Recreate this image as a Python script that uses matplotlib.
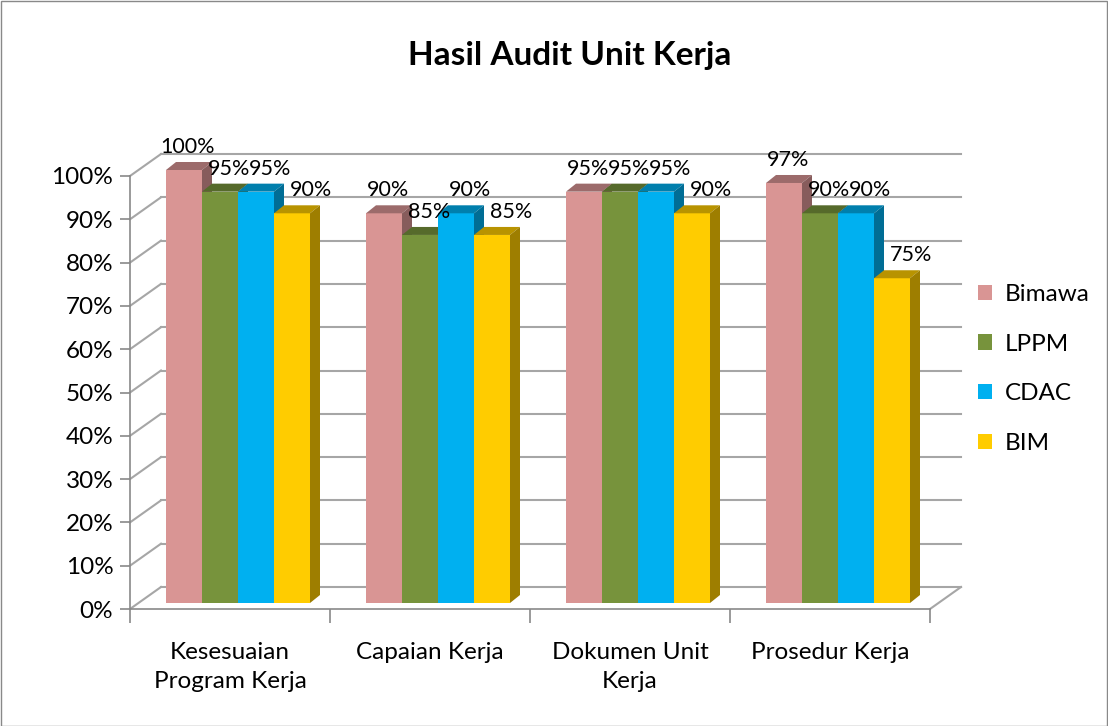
import matplotlib.pyplot as plt
import numpy as np
from matplotlib.patches import Polygon, Rectangle
from matplotlib.ticker import PercentFormatter, FixedLocator

categories = ['Kesesuaian\nProgram Kerja', 'Capaian Kerja', 'Dokumen Unit\nKerja', 'Prosedur Kerja']
units = ['Bimawa', 'LPPM', 'CDAC', 'BIM']
bimawa = [100, 90, 95, 97]
lppm = [95, 85, 95, 90]
cdac = [95, 90, 95, 90]
bim = [90, 85, 90, 75]
values = [bimawa, lppm, cdac, bim]
colors = ['#D99594', '#77933C', '#00B0F0', '#FFCC00']

plt.rcParams['font.family'] = ['Lato', 'DejaVu Sans']

W, H = 1108, 726
fig = plt.figure(figsize=(W / 100, H / 100), dpi=100)
# front plane of the 3d box: 800 x 433 px
ax = fig.add_axes([130 / W, 117 / H, 800 / W, 433 / H])
ax.set_xlim(0, 4)
ax.set_ylim(0, 100)
ux = 4 / 800     # data units per pixel
uy = 100 / 433

grid = '#A6A6A6'
wall_dx, wall_dy = 31 * ux, 22 * uy   # back wall offset
bar_dx, bar_dy = 8 * ux, 6 * uy       # bars sit a bit behind the front
side_dx, side_dy = 10 * ux, 8 * uy    # depth of a bar
bw = 36 * ux

def shade(c, f):
    r, g, b = [int(c[i:i + 2], 16) / 255 for i in (1, 3, 5)]
    return (r * f, g * f, b * f)

# walls / gridlines
for y in range(0, 101, 10):
    ax.plot([0, wall_dx], [y, y + wall_dy], color=grid, lw=1.5, zorder=1, clip_on=False)
    ax.plot([wall_dx, 4 + wall_dx], [y + wall_dy, y + wall_dy], color=grid, lw=1.5, zorder=1, clip_on=False)
ax.plot([4, 4 + wall_dx], [0, wall_dy], color=grid, lw=1.5, zorder=1, clip_on=False)

# bars
for i in range(len(categories)):
    for j, vals in enumerate(values):
        v = vals[i]
        x0 = i + 0.14 + j * bw + bar_dx
        y0 = bar_dy
        y1 = v + bar_dy
        z = 3 + i * 10 + j
        ax.add_patch(Rectangle((x0, y0), bw, v, facecolor=colors[j], edgecolor='none', zorder=z, clip_on=False))
        ax.add_patch(Polygon([(x0, y1), (x0 + bw, y1), (x0 + bw + side_dx, y1 + side_dy), (x0 + side_dx, y1 + side_dy)],
                             closed=True, facecolor=shade(colors[j], 0.72), edgecolor='none', zorder=z, clip_on=False))
        ax.add_patch(Polygon([(x0 + bw, y0), (x0 + bw, y1), (x0 + bw + side_dx, y1 + side_dy), (x0 + bw + side_dx, y0 + side_dy)],
                             closed=True, facecolor=shade(colors[j], 0.62), edgecolor='none', zorder=z, clip_on=False))
        ax.text(x0 + bw / 2 + (4 + 5 * j) * ux, y1 + 23 * uy, f'{v}%', ha='center', va='center', fontsize=15.5,
                color='#000000', zorder=100, clip_on=False)

# axes
for s in ['top', 'right']:
    ax.spines[s].set_visible(False)
for s in ['left', 'bottom']:
    ax.spines[s].set_color('#898989')
    ax.spines[s].set_linewidth(1.2)
    ax.spines[s].set_zorder(2)
ax.set_yticks(range(0, 101, 10))
ax.yaxis.set_major_formatter(PercentFormatter(decimals=0))
ax.tick_params(axis='y', length=7, width=1.2, color='#898989', labelsize=17.5, pad=5)
ax.set_xticks([0, 1, 2, 3, 4])
ax.set_xticklabels([])
ax.xaxis.set_minor_locator(FixedLocator([0.5, 1.5, 2.5, 3.5]))
ax.set_xticklabels(categories, minor=True, linespacing=1.45, va='top')
ax.tick_params(axis='x', which='major', length=10, width=1.2, color='#898989')
ax.tick_params(axis='x', which='minor', length=0, labelsize=17.5, pad=24)
ax.set_facecolor('none')

fig.text(570 / W, 1 - 55 / H, 'Hasil Audit Unit Kerja', ha='center', va='center', fontsize=24, fontweight='bold')

# legend
handles = [Rectangle((0, 0), 1, 1, facecolor=c, edgecolor='none') for c in colors]
fig.legend(handles, units, loc='center left', bbox_to_anchor=(956 / W, 1 - 369 / H), frameon=False,
           fontsize=17.5, handlelength=0.6, handleheight=0.6, labelspacing=1.18, handletextpad=0.5)

fig.add_artist(Rectangle((0.5 / W, 0.5 / H), 1 - 1.5 / W, 1 - 1.5 / H, transform=fig.transFigure,
                         facecolor='none', edgecolor='#898989', lw=1))

fig.savefig('out.png', dpi=100)
